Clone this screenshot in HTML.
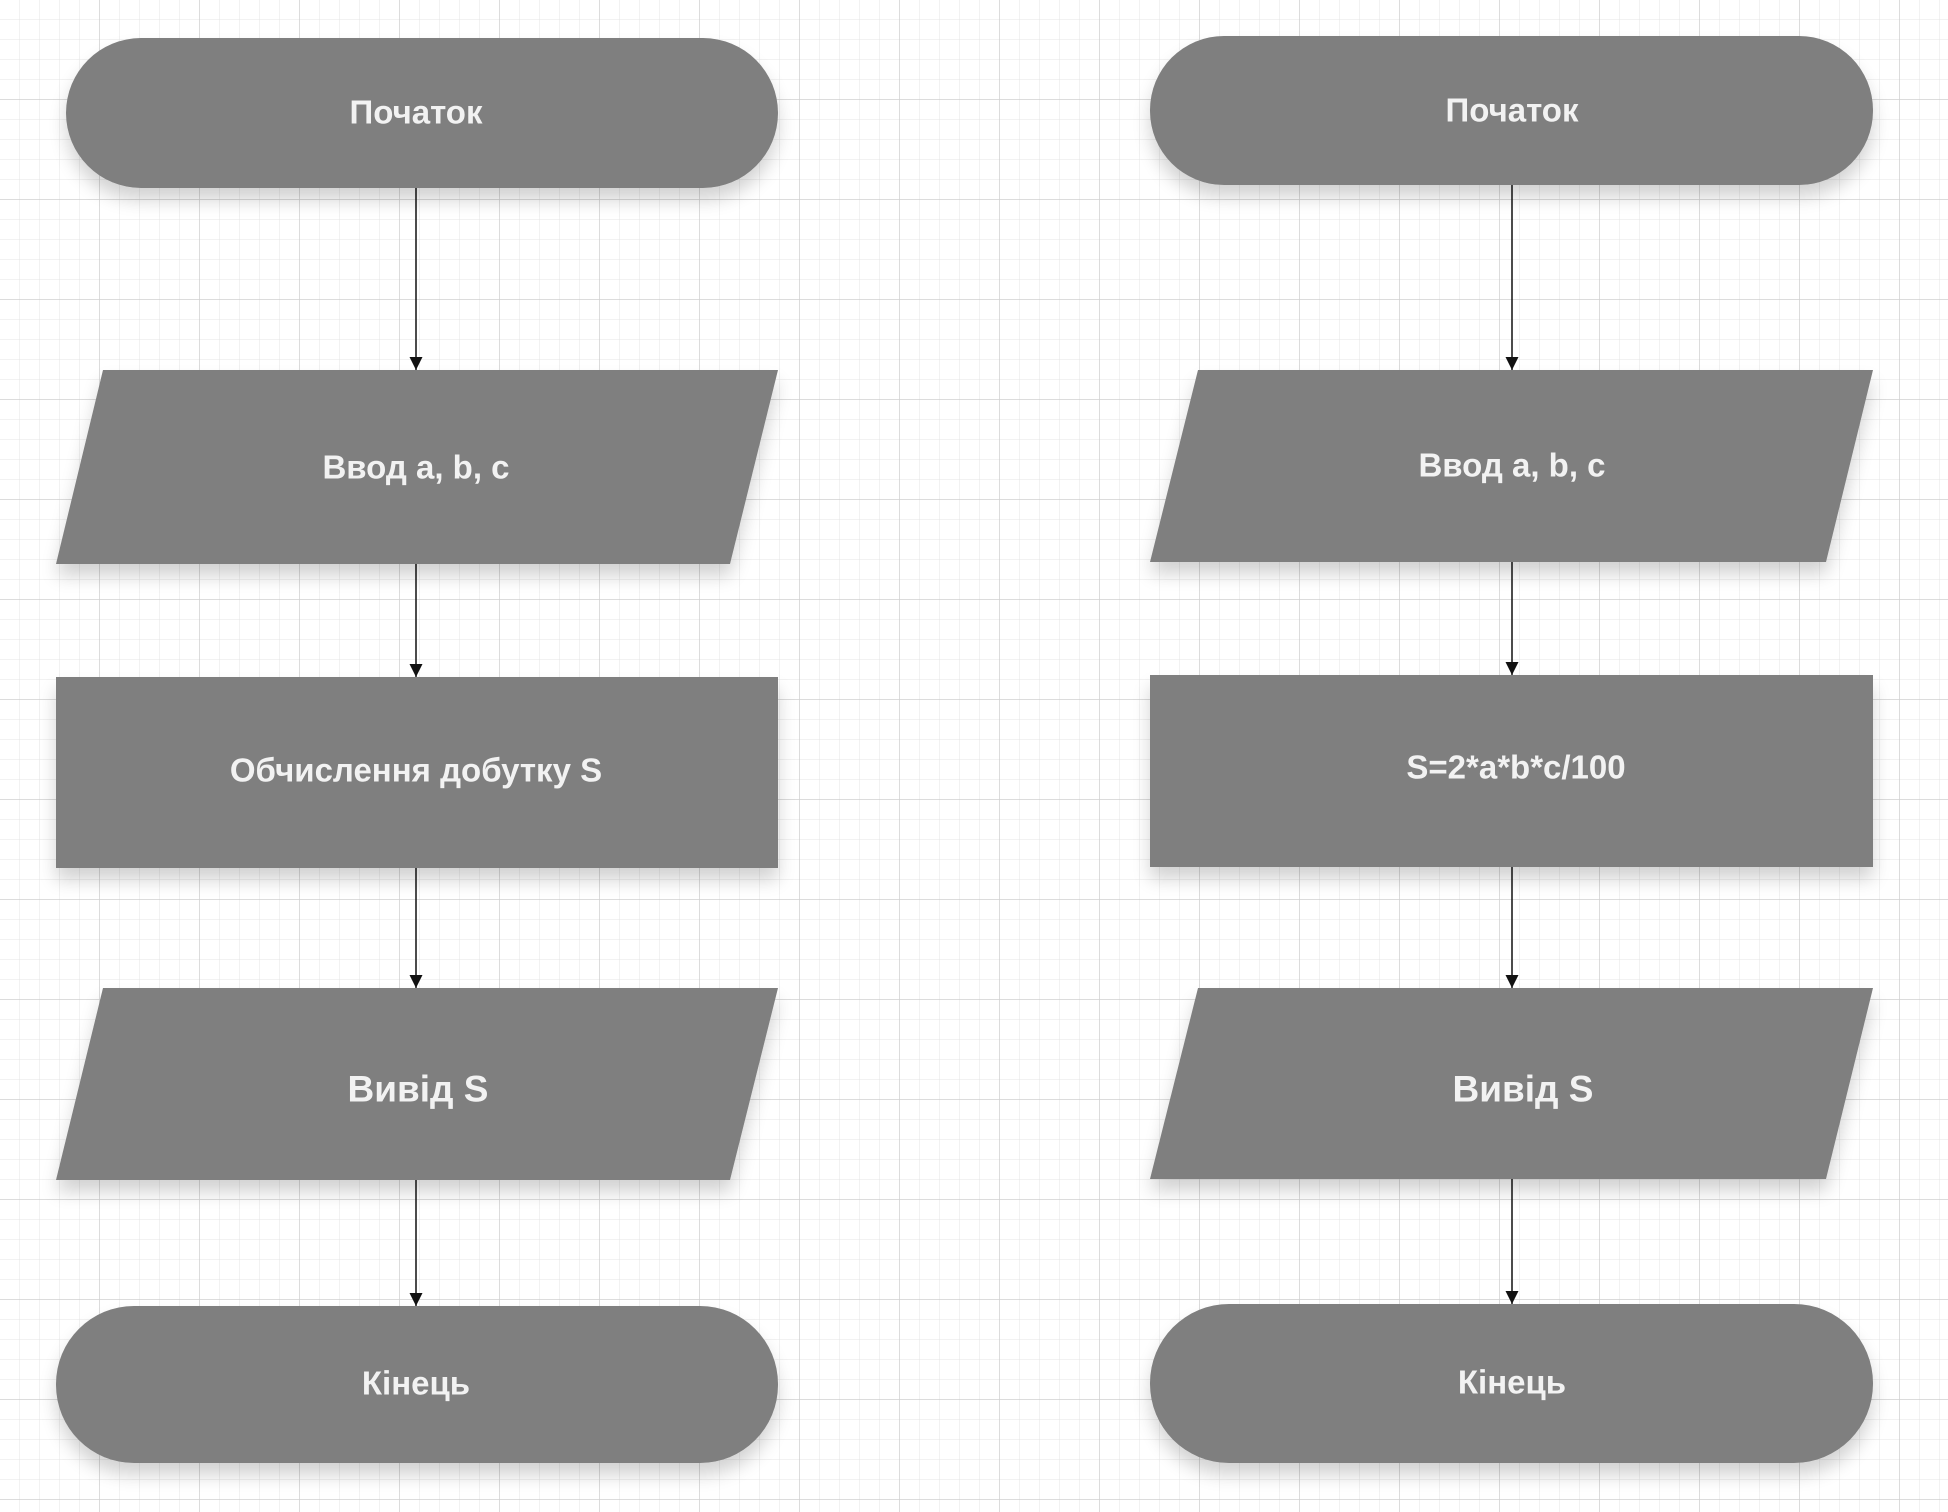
<!DOCTYPE html>
<html><head><meta charset="utf-8"><style>
html,body{margin:0;padding:0;background:#fff;}
svg{display:block;}
text{font-family:"Liberation Sans",Arial,sans-serif;font-weight:bold;fill:#f2f2f2;text-anchor:middle;dominant-baseline:central;}
</style></head><body>
<svg width="1948" height="1512" viewBox="0 0 1948 1512" xmlns="http://www.w3.org/2000/svg">
<defs>
<pattern id="minor" width="20" height="20" patternUnits="userSpaceOnUse"><path d="M20 0V20H0" fill="none" stroke="#e4e4e4" stroke-width="1"/></pattern>
<pattern id="major" width="100" height="100" patternUnits="userSpaceOnUse"><path d="M100 0V100H0" fill="none" stroke="#d0d0d0" stroke-width="1.5"/></pattern>
<filter id="sh" x="-10%" y="-20%" width="120%" height="160%"><feGaussianBlur in="SourceAlpha" stdDeviation="9"/><feOffset dy="12"/><feComponentTransfer><feFuncA type="linear" slope="0.18"/></feComponentTransfer><feMerge><feMergeNode/><feMergeNode in="SourceGraphic"/></feMerge></filter>
<marker id="ar" markerWidth="16" markerHeight="16" refX="13" refY="6.5" orient="auto" markerUnits="userSpaceOnUse"><path d="M0,0 L13,6.5 L0,13 Z" fill="#111"/></marker>
</defs>
<rect width="1948" height="1512" fill="#fff"/>
<rect width="1948" height="1512" fill="url(#minor)"/>
<rect width="1948" height="1512" fill="url(#major)"/>
<g stroke="#111" stroke-width="1.5" fill="none" marker-end="url(#ar)">
<line x1="416" y1="188" x2="416" y2="370"/>
<line x1="416" y1="564" x2="416" y2="677"/>
<line x1="416" y1="868" x2="416" y2="988"/>
<line x1="416" y1="1180" x2="416" y2="1306"/>
<line x1="1512" y1="185" x2="1512" y2="370"/>
<line x1="1512" y1="562" x2="1512" y2="675"/>
<line x1="1512" y1="867" x2="1512" y2="988"/>
<line x1="1512" y1="1179" x2="1512" y2="1304"/>
</g>
<g fill="#7f7f7f" filter="url(#sh)">
<rect x="66" y="38" width="712" height="150" rx="75"/>
<polygon points="103,370 778,370 730,564 56,564"/>
<rect x="56" y="677" width="722" height="191"/>
<polygon points="103,988 778,988 730,1180 56,1180"/>
<rect x="56" y="1306" width="722" height="157" rx="78"/>
<rect x="1150" y="36" width="723" height="149" rx="74"/>
<polygon points="1198,370 1873,370 1826,562 1150,562"/>
<rect x="1150" y="675" width="723" height="192"/>
<polygon points="1198,988 1873,988 1826,1179 1150,1179"/>
<rect x="1150" y="1304" width="723" height="159" rx="79"/>
</g>
<text x="416" y="112" font-size="33">Початок</text>
<text x="416" y="467" font-size="33">Ввод a, b, c</text>
<text x="416" y="770" font-size="33">Обчислення добутку S</text>
<text x="418" y="1089" font-size="37">Вивід S</text>
<text x="416" y="1383" font-size="33">Кінець</text>
<text x="1512" y="110" font-size="33">Початок</text>
<text x="1512" y="465" font-size="33">Ввод a, b, c</text>
<text x="1516" y="767" font-size="33">S=2*a*b*c/100</text>
<text x="1523" y="1089" font-size="37">Вивід S</text>
<text x="1512" y="1382" font-size="33">Кінець</text>
</svg>
</body></html>
